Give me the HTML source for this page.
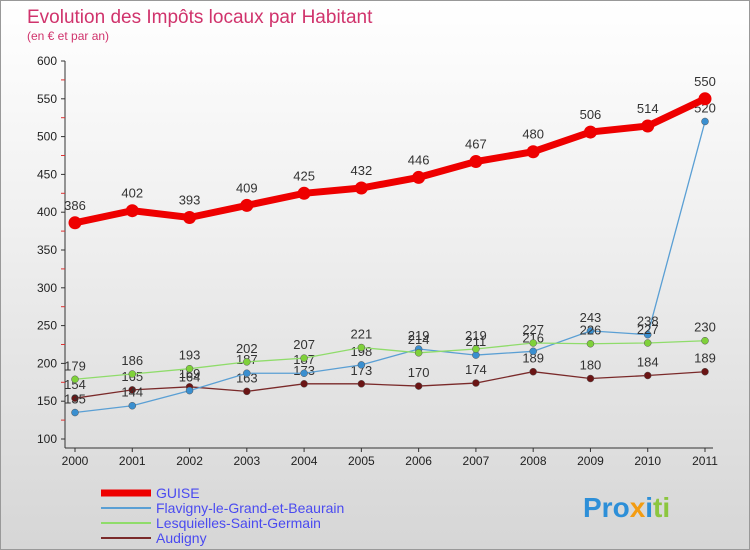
<!DOCTYPE html>
<html><head><meta charset="utf-8"><style>
body{margin:0;width:750px;height:550px;overflow:hidden;font-family:"Liberation Sans","DejaVu Sans",sans-serif}
#wrap{position:relative;width:748px;height:548px;border:1px solid #999;background:linear-gradient(#fff 0%,#f0f0f0 40%,#d6d6d6 100%)}
</style></head><body>
<div id="wrap">
<svg id="chart" width="748" height="548" style="position:absolute;left:0;top:0"></svg>
</div>
<script>
const years=["2000","2001","2002","2003","2004","2005","2006","2007","2008","2009","2010","2011"];
const guise=[386,402,393,409,425,432,446,467,480,506,514,550];
const flavigny=[135,144,164,187,187,198,219,211,216,243,238,520];
const lesquielles=[179,186,193,202,207,221,214,219,227,226,227,230];
const audigny=[154,165,169,163,173,173,170,174,189,180,184,189];
const yTicks=[100,150,200,250,300,350,400,450,500,550,600];
const NS="http://www.w3.org/2000/svg";
const svg=document.getElementById('chart');
const x=i=>74+i*(630/11);
const y=v=>438-(v-100)*378/500;
function mk(t,a,p){const e=document.createElementNS(NS,t);for(const k in a)e.setAttribute(k,a[k]);(p||svg).appendChild(e);return e;}
function txt(s,a){const e=mk('text',a);e.textContent=s;return e;}
let t=txt('Evolution des Impôts locaux par Habitant',{x:26,y:22,'font-size':19,fill:'#d0336c'});


t=txt('(en € et par an)',{x:26,y:39,'font-size':12,fill:'#d0336c'});


let ax=mk('line',{x1:64,y1:y(600),x2:64,y2:447,stroke:'#333'});


ax=mk('line',{x1:64,y1:447,x2:712,y2:447,stroke:'#333'});


yTicks.forEach(v=>{
 mk('line',{x1:60,y1:y(v),x2:64,y2:y(v),stroke:'#333'});
 if(v<600)mk('line',{x1:60,y1:y(v+25),x2:64,y2:y(v+25),stroke:'#d33'});
 const l=txt(String(v),{x:56,y:y(v)+4,'font-size':12,'text-anchor':'end',fill:'#222'});
 
 
});
years.forEach((yr,i)=>{
 mk('line',{x1:x(i),y1:447,x2:x(i),y2:451,stroke:'#333'});
 const l=txt(yr,{x:x(i),y:464,'font-size':12,'text-anchor':'middle',fill:'#222'});
 
 
});
function series(name,vals,color,w,r,dot){
 const g=mk('g',{});
 
 
 const p=mk('polyline',{points:vals.map((v,i)=>x(i)+','+y(v)).join(' '),fill:'none',stroke:color,'stroke-width':w},g);
 
 
 vals.forEach((v,i)=>{
  const c=mk('circle',{cx:x(i),cy:y(v),r:r,fill:dot,stroke:'#555','stroke-width':r>4?0:0.5},g);
  
  
  const l=txt(String(v),{x:x(i),y:y(v)-9-(r>4?4:0),'font-size':13,'text-anchor':'middle',fill:'#333'});
  
  
 });
}
series('audigny',audigny,'#7a2a2a',1.3,3.5,'#6b1515');
series('flavigny',flavigny,'#5a9fd4',1.3,3.5,'#3a8fd0');
series('lesquielles',lesquielles,'#8fdc6a',1.3,3.5,'#7fd13a');
series('guise',guise,'#ee0000',7,6.5,'#ee0000');
const legend=[['GUISE','#ee0000',7],['Flavigny-le-Grand-et-Beaurain','#5a9fd4',2],['Lesquielles-Saint-Germain','#8fdc6a',2],['Audigny','#7a2a2a',2]];
legend.forEach((L,i)=>{
 const yy=492+i*15;
 const g=mk('g',{});
 
 
 mk('line',{x1:100,y1:yy,x2:150,y2:yy,stroke:L[1],'stroke-width':L[2]},g);
 const l=txt(L[0],{x:155,y:yy+5,'font-size':14,fill:'#4a4af0'});
 g.appendChild(l);
});
const logo=txt('',{x:582,y:516,'font-size':28,'font-weight':'bold'});


[['Pro','#2d8fd8'],['x','#f39c12'],['i','#2d8fd8'],['ti','#8cc63f']].forEach(p=>{const s=mk('tspan',{fill:p[1]},logo);s.textContent=p[0];});
</script>
</body></html>
